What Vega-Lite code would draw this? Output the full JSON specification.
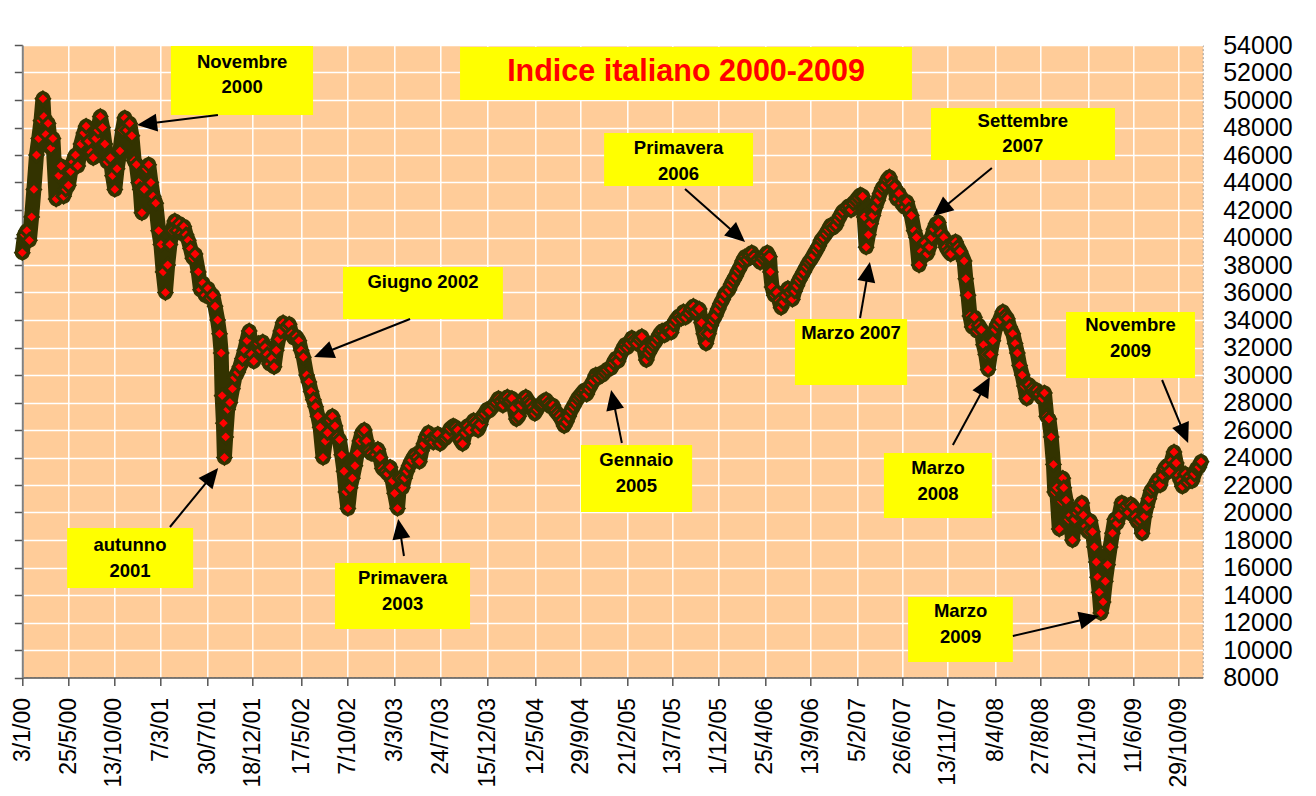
{
"$schema":"https://vega.github.io/schema/vega-lite/v6.json",
"width":1180.4,"height":632.5,
"autosize":{"type":"none"},
"padding":{"left":22.3,"top":45,"right":113.3,"bottom":118.5},
"background":"white",
"config":{"view":{"fill":"#FFCC99","stroke":"#9a9a9a","strokeDash":[2,2],"strokeWidth":1},"font":"Liberation Sans"},
"datasets":{
"series":[
{"d":"2000-01-03","v":38900},{"d":"2000-01-10","v":40200},{"d":"2000-01-17","v":40500},{"d":"2000-01-25","v":39800},{"d":"2000-02-01","v":41500},{"d":"2000-02-08","v":43500},{"d":"2000-02-16","v":46000},{"d":"2000-02-23","v":47200},{"d":"2000-03-01","v":48500},{"d":"2000-03-07","v":50100},{"d":"2000-03-10","v":48800},{"d":"2000-03-16","v":47500},{"d":"2000-03-23","v":48300},{"d":"2000-04-01","v":46500},{"d":"2000-04-07","v":47200},{"d":"2000-04-17","v":42800},{"d":"2000-04-25","v":44500},{"d":"2000-05-02","v":45200},{"d":"2000-05-10","v":43000},{"d":"2000-05-17","v":43500},{"d":"2000-05-25","v":43800},{"d":"2000-06-01","v":44800},{"d":"2000-06-08","v":45500},{"d":"2000-06-16","v":46000},{"d":"2000-06-23","v":45200},{"d":"2000-07-03","v":46800},{"d":"2000-07-12","v":47600},{"d":"2000-07-19","v":48100},{"d":"2000-07-27","v":47000},{"d":"2000-08-03","v":46200},{"d":"2000-08-10","v":45800},{"d":"2000-08-18","v":47200},{"d":"2000-08-25","v":47800},{"d":"2000-09-01","v":48800},{"d":"2000-09-08","v":48000},{"d":"2000-09-15","v":46800},{"d":"2000-09-22","v":45500},{"d":"2000-10-02","v":45800},{"d":"2000-10-09","v":44500},{"d":"2000-10-16","v":43500},{"d":"2000-10-23","v":45000},{"d":"2000-11-01","v":46300},{"d":"2000-11-09","v":47800},{"d":"2000-11-16","v":48700},{"d":"2000-11-23","v":47800},{"d":"2000-12-01","v":48300},{"d":"2000-12-08","v":47400},{"d":"2000-12-15","v":45600},{"d":"2000-12-22","v":45300},{"d":"2000-12-29","v":44000},
{"d":"2001-01-03","v":43500},{"d":"2001-01-08","v":41800},{"d":"2001-01-15","v":43500},{"d":"2001-01-22","v":45000},{"d":"2001-01-29","v":45300},{"d":"2001-02-05","v":44000},{"d":"2001-02-12","v":43000},{"d":"2001-02-20","v":42500},{"d":"2001-03-01","v":40500},{"d":"2001-03-08","v":39500},{"d":"2001-03-15","v":37500},{"d":"2001-03-22","v":36000},{"d":"2001-03-29","v":38000},{"d":"2001-04-05","v":39500},{"d":"2001-04-12","v":40500},{"d":"2001-04-20","v":41200},{"d":"2001-04-27","v":40500},{"d":"2001-05-04","v":41000},{"d":"2001-05-11","v":40300},{"d":"2001-05-18","v":40800},{"d":"2001-05-25","v":40200},{"d":"2001-06-01","v":39800},{"d":"2001-06-08","v":39200},{"d":"2001-06-15","v":38500},{"d":"2001-06-22","v":38800},{"d":"2001-07-02","v":37500},{"d":"2001-07-09","v":36200},{"d":"2001-07-16","v":36700},{"d":"2001-07-23","v":35800},{"d":"2001-08-01","v":36300},{"d":"2001-08-08","v":35600},{"d":"2001-08-16","v":35800},{"d":"2001-08-23","v":35000},{"d":"2001-08-31","v":34000},{"d":"2001-09-06","v":33000},{"d":"2001-09-11","v":31600},{"d":"2001-09-14","v":28500},{"d":"2001-09-18","v":26500},{"d":"2001-09-21","v":24000},{"d":"2001-09-25","v":25500},{"d":"2001-10-01","v":27500},{"d":"2001-10-08","v":28000},{"d":"2001-10-16","v":29000},{"d":"2001-10-23","v":29800},{"d":"2001-11-01","v":30200},{"d":"2001-11-08","v":30600},{"d":"2001-11-16","v":31200},{"d":"2001-11-23","v":31800},{"d":"2001-11-30","v":32500},{"d":"2001-12-07","v":33200},{"d":"2001-12-14","v":31500},{"d":"2001-12-21","v":31000},
{"d":"2002-01-04","v":32300},{"d":"2002-01-11","v":31800},{"d":"2002-01-18","v":32400},{"d":"2002-01-25","v":32000},{"d":"2002-02-01","v":31500},{"d":"2002-02-08","v":30800},{"d":"2002-02-15","v":31200},{"d":"2002-02-22","v":30600},{"d":"2002-03-01","v":31800},{"d":"2002-03-08","v":32600},{"d":"2002-03-15","v":33200},{"d":"2002-03-22","v":33800},{"d":"2002-04-02","v":33500},{"d":"2002-04-10","v":33700},{"d":"2002-04-17","v":33000},{"d":"2002-04-24","v":32700},{"d":"2002-05-02","v":32800},{"d":"2002-05-10","v":32500},{"d":"2002-05-17","v":31800},{"d":"2002-05-24","v":31300},{"d":"2002-06-03","v":30000},{"d":"2002-06-10","v":29500},{"d":"2002-06-17","v":28800},{"d":"2002-06-24","v":28200},{"d":"2002-07-01","v":27700},{"d":"2002-07-08","v":27000},{"d":"2002-07-15","v":26200},{"d":"2002-07-24","v":24000},{"d":"2002-07-31","v":25200},{"d":"2002-08-07","v":25800},{"d":"2002-08-15","v":26700},{"d":"2002-08-22","v":27000},{"d":"2002-08-30","v":26300},{"d":"2002-09-06","v":25500},{"d":"2002-09-13","v":25300},{"d":"2002-09-20","v":24200},{"d":"2002-09-27","v":23000},{"d":"2002-10-03","v":21500},{"d":"2002-10-09","v":20300},{"d":"2002-10-16","v":21800},{"d":"2002-10-23","v":22500},{"d":"2002-10-31","v":23400},{"d":"2002-11-07","v":24300},{"d":"2002-11-15","v":25200},{"d":"2002-11-22","v":25800},{"d":"2002-11-29","v":26000},{"d":"2002-12-06","v":25200},{"d":"2002-12-13","v":24500},{"d":"2002-12-20","v":24300},
{"d":"2003-01-03","v":24200},{"d":"2003-01-10","v":24600},{"d":"2003-01-17","v":24000},{"d":"2003-01-24","v":23200},{"d":"2003-02-03","v":23000},{"d":"2003-02-10","v":22800},{"d":"2003-02-17","v":23300},{"d":"2003-02-24","v":22300},{"d":"2003-03-03","v":21400},{"d":"2003-03-12","v":20300},{"d":"2003-03-20","v":22500},{"d":"2003-03-27","v":21800},{"d":"2003-04-03","v":22500},{"d":"2003-04-10","v":23000},{"d":"2003-04-17","v":23400},{"d":"2003-04-25","v":23800},{"d":"2003-05-05","v":24200},{"d":"2003-05-12","v":24000},{"d":"2003-05-19","v":23700},{"d":"2003-05-26","v":24500},{"d":"2003-06-02","v":25000},{"d":"2003-06-09","v":25500},{"d":"2003-06-16","v":25800},{"d":"2003-06-23","v":25300},{"d":"2003-07-01","v":25100},{"d":"2003-07-08","v":25500},{"d":"2003-07-15","v":25700},{"d":"2003-07-22","v":25000},{"d":"2003-08-01","v":25300},{"d":"2003-08-08","v":25400},{"d":"2003-08-15","v":25600},{"d":"2003-08-22","v":26100},{"d":"2003-09-01","v":26300},{"d":"2003-09-08","v":26200},{"d":"2003-09-15","v":26000},{"d":"2003-09-22","v":25300},{"d":"2003-09-30","v":25000},{"d":"2003-10-08","v":25800},{"d":"2003-10-15","v":26300},{"d":"2003-10-22","v":26000},{"d":"2003-11-03","v":26700},{"d":"2003-11-10","v":26500},{"d":"2003-11-17","v":26000},{"d":"2003-11-24","v":26400},{"d":"2003-12-01","v":27000},{"d":"2003-12-08","v":27200},{"d":"2003-12-15","v":27500},{"d":"2003-12-22","v":27400},
{"d":"2004-01-05","v":27800},{"d":"2004-01-12","v":28000},{"d":"2004-01-19","v":28300},{"d":"2004-01-26","v":28100},{"d":"2004-02-02","v":27800},{"d":"2004-02-09","v":28200},{"d":"2004-02-16","v":28400},{"d":"2004-02-23","v":28100},{"d":"2004-03-01","v":28300},{"d":"2004-03-08","v":27600},{"d":"2004-03-15","v":26800},{"d":"2004-03-22","v":27000},{"d":"2004-03-29","v":27800},{"d":"2004-04-05","v":28200},{"d":"2004-04-13","v":28400},{"d":"2004-04-20","v":28100},{"d":"2004-04-27","v":27900},{"d":"2004-05-04","v":27600},{"d":"2004-05-11","v":27200},{"d":"2004-05-18","v":27500},{"d":"2004-05-25","v":27800},{"d":"2004-06-01","v":27900},{"d":"2004-06-08","v":28100},{"d":"2004-06-15","v":28200},{"d":"2004-06-22","v":27900},{"d":"2004-06-29","v":27700},{"d":"2004-07-06","v":27800},{"d":"2004-07-13","v":27400},{"d":"2004-07-20","v":27200},{"d":"2004-07-27","v":27000},{"d":"2004-08-03","v":26700},{"d":"2004-08-10","v":26300},{"d":"2004-08-17","v":26600},{"d":"2004-08-24","v":27000},{"d":"2004-08-31","v":27400},{"d":"2004-09-07","v":27700},{"d":"2004-09-14","v":28000},{"d":"2004-09-21","v":28300},{"d":"2004-09-28","v":28500},{"d":"2004-10-05","v":28700},{"d":"2004-10-12","v":28900},{"d":"2004-10-19","v":28600},{"d":"2004-10-26","v":29000},{"d":"2004-11-02","v":29300},{"d":"2004-11-09","v":29600},{"d":"2004-11-16","v":30000},{"d":"2004-11-23","v":29800},{"d":"2004-11-30","v":30100},{"d":"2004-12-07","v":30000},{"d":"2004-12-14","v":30200},{"d":"2004-12-21","v":30400},
{"d":"2005-01-03","v":30500},{"d":"2005-01-10","v":30900},{"d":"2005-01-17","v":31200},{"d":"2005-01-24","v":31000},{"d":"2005-02-01","v":31500},{"d":"2005-02-08","v":31900},{"d":"2005-02-15","v":32200},{"d":"2005-02-22","v":32000},{"d":"2005-03-01","v":32300},{"d":"2005-03-08","v":32700},{"d":"2005-03-15","v":32500},{"d":"2005-03-22","v":32300},{"d":"2005-04-01","v":32600},{"d":"2005-04-08","v":32800},{"d":"2005-04-15","v":31900},{"d":"2005-04-22","v":31100},{"d":"2005-04-29","v":31600},{"d":"2005-05-06","v":31900},{"d":"2005-05-13","v":32200},{"d":"2005-05-20","v":32400},{"d":"2005-05-27","v":32700},{"d":"2005-06-03","v":33000},{"d":"2005-06-10","v":33200},{"d":"2005-06-17","v":32900},{"d":"2005-06-24","v":33300},{"d":"2005-07-01","v":33400},{"d":"2005-07-08","v":33100},{"d":"2005-07-15","v":33700},{"d":"2005-07-22","v":34000},{"d":"2005-08-01","v":34300},{"d":"2005-08-08","v":34100},{"d":"2005-08-15","v":34600},{"d":"2005-08-22","v":34200},{"d":"2005-09-01","v":34500},{"d":"2005-09-08","v":34800},{"d":"2005-09-15","v":35000},{"d":"2005-09-22","v":34600},{"d":"2005-10-03","v":34800},{"d":"2005-10-10","v":33800},{"d":"2005-10-17","v":33000},{"d":"2005-10-24","v":32300},{"d":"2005-11-01","v":33000},{"d":"2005-11-08","v":33600},{"d":"2005-11-15","v":34000},{"d":"2005-11-22","v":34300},{"d":"2005-12-01","v":34800},{"d":"2005-12-08","v":35200},{"d":"2005-12-15","v":35500},{"d":"2005-12-22","v":35900},
{"d":"2006-01-03","v":36200},{"d":"2006-01-10","v":36600},{"d":"2006-01-17","v":36900},{"d":"2006-01-24","v":37200},{"d":"2006-02-01","v":37600},{"d":"2006-02-08","v":37900},{"d":"2006-02-15","v":38300},{"d":"2006-02-22","v":38600},{"d":"2006-03-01","v":38400},{"d":"2006-03-08","v":38700},{"d":"2006-03-15","v":38900},{"d":"2006-03-22","v":38600},{"d":"2006-04-03","v":38400},{"d":"2006-04-10","v":38200},{"d":"2006-04-18","v":38500},{"d":"2006-04-25","v":38700},{"d":"2006-05-02","v":38900},{"d":"2006-05-09","v":38600},{"d":"2006-05-12","v":37500},{"d":"2006-05-17","v":36400},{"d":"2006-05-24","v":35800},{"d":"2006-06-01","v":36000},{"d":"2006-06-08","v":35400},{"d":"2006-06-14","v":34900},{"d":"2006-06-21","v":35300},{"d":"2006-06-28","v":35800},{"d":"2006-07-05","v":36300},{"d":"2006-07-12","v":36000},{"d":"2006-07-19","v":35500},{"d":"2006-07-26","v":36100},{"d":"2006-08-02","v":36500},{"d":"2006-08-09","v":36900},{"d":"2006-08-16","v":37200},{"d":"2006-08-23","v":37500},{"d":"2006-09-01","v":37900},{"d":"2006-09-08","v":38200},{"d":"2006-09-15","v":38400},{"d":"2006-09-22","v":38700},{"d":"2006-10-02","v":39100},{"d":"2006-10-09","v":39400},{"d":"2006-10-16","v":39800},{"d":"2006-10-23","v":40000},{"d":"2006-11-01","v":40300},{"d":"2006-11-08","v":40600},{"d":"2006-11-15","v":40900},{"d":"2006-11-22","v":40700},{"d":"2006-12-01","v":40900},{"d":"2006-12-08","v":41300},{"d":"2006-12-15","v":41600},{"d":"2006-12-22","v":41900},
{"d":"2007-01-03","v":42100},{"d":"2007-01-10","v":42300},{"d":"2007-01-17","v":42000},{"d":"2007-01-24","v":42500},{"d":"2007-02-01","v":42700},{"d":"2007-02-08","v":42900},{"d":"2007-02-15","v":43100},{"d":"2007-02-22","v":43000},{"d":"2007-02-27","v":41500},{"d":"2007-03-05","v":39300},{"d":"2007-03-12","v":40200},{"d":"2007-03-19","v":41000},{"d":"2007-03-26","v":41600},{"d":"2007-04-02","v":42200},{"d":"2007-04-10","v":42700},{"d":"2007-04-17","v":43200},{"d":"2007-04-24","v":43600},{"d":"2007-05-02","v":43800},{"d":"2007-05-09","v":44200},{"d":"2007-05-16","v":44400},{"d":"2007-05-23","v":43900},{"d":"2007-06-01","v":43700},{"d":"2007-06-08","v":42800},{"d":"2007-06-15","v":43200},{"d":"2007-06-22","v":42500},{"d":"2007-07-02","v":42200},{"d":"2007-07-09","v":42600},{"d":"2007-07-16","v":42000},{"d":"2007-07-23","v":41600},{"d":"2007-08-01","v":40500},{"d":"2007-08-08","v":40000},{"d":"2007-08-16","v":38000},{"d":"2007-08-23","v":39000},{"d":"2007-09-03","v":39600},{"d":"2007-09-10","v":38800},{"d":"2007-09-17","v":39300},{"d":"2007-09-24","v":40000},{"d":"2007-10-01","v":40600},{"d":"2007-10-08","v":41000},{"d":"2007-10-15","v":41100},{"d":"2007-10-22","v":40300},{"d":"2007-11-01","v":40000},{"d":"2007-11-08","v":39300},{"d":"2007-11-15","v":39000},{"d":"2007-11-22","v":38800},{"d":"2007-11-30","v":39500},{"d":"2007-12-07","v":39700},{"d":"2007-12-14","v":39300},{"d":"2007-12-21","v":39000},
{"d":"2008-01-03","v":38300},{"d":"2008-01-08","v":37000},{"d":"2008-01-15","v":35800},{"d":"2008-01-21","v":34300},{"d":"2008-01-28","v":33500},{"d":"2008-02-04","v":34200},{"d":"2008-02-11","v":33200},{"d":"2008-02-18","v":33600},{"d":"2008-02-25","v":33300},{"d":"2008-03-03","v":32200},{"d":"2008-03-10","v":31500},{"d":"2008-03-17","v":30400},{"d":"2008-03-24","v":31500},{"d":"2008-04-01","v":32500},{"d":"2008-04-08","v":33300},{"d":"2008-04-15","v":33700},{"d":"2008-04-22","v":34000},{"d":"2008-05-02","v":34600},{"d":"2008-05-09","v":34300},{"d":"2008-05-16","v":34100},{"d":"2008-05-23","v":33500},{"d":"2008-06-02","v":33000},{"d":"2008-06-09","v":32300},{"d":"2008-06-16","v":31600},{"d":"2008-06-23","v":30700},{"d":"2008-07-01","v":30000},{"d":"2008-07-08","v":29200},{"d":"2008-07-15","v":28300},{"d":"2008-07-22","v":29300},{"d":"2008-08-01","v":29000},{"d":"2008-08-08","v":28800},{"d":"2008-08-15","v":28900},{"d":"2008-08-22","v":28600},{"d":"2008-09-01","v":28300},{"d":"2008-09-08","v":28700},{"d":"2008-09-15","v":27000},{"d":"2008-09-22","v":26800},{"d":"2008-09-29","v":25500},{"d":"2008-10-06","v":23500},{"d":"2008-10-10","v":21500},{"d":"2008-10-16","v":21800},{"d":"2008-10-24","v":18800},{"d":"2008-10-31","v":20800},{"d":"2008-11-04","v":22500},{"d":"2008-11-07","v":21800},{"d":"2008-11-14","v":20900},{"d":"2008-11-21","v":19500},{"d":"2008-11-28","v":19800},{"d":"2008-12-04","v":18000},{"d":"2008-12-11","v":19500},{"d":"2008-12-18","v":20000},{"d":"2008-12-24","v":20300},
{"d":"2009-01-02","v":20700},{"d":"2009-01-07","v":19800},{"d":"2009-01-14","v":19000},{"d":"2009-01-21","v":18600},{"d":"2009-01-28","v":19400},{"d":"2009-02-04","v":18600},{"d":"2009-02-10","v":17500},{"d":"2009-02-16","v":16400},{"d":"2009-02-20","v":15300},{"d":"2009-02-25","v":14200},{"d":"2009-03-02","v":12700},{"d":"2009-03-09","v":13500},{"d":"2009-03-16","v":15000},{"d":"2009-03-23","v":16200},{"d":"2009-03-31","v":17500},{"d":"2009-04-07","v":18500},{"d":"2009-04-14","v":19500},{"d":"2009-04-21","v":19200},{"d":"2009-04-28","v":19800},{"d":"2009-05-06","v":20700},{"d":"2009-05-13","v":20300},{"d":"2009-05-20","v":20500},{"d":"2009-05-27","v":20000},{"d":"2009-06-03","v":20600},{"d":"2009-06-10","v":20400},{"d":"2009-06-17","v":19700},{"d":"2009-06-24","v":19300},{"d":"2009-07-01","v":19500},{"d":"2009-07-08","v":18500},{"d":"2009-07-15","v":19700},{"d":"2009-07-22","v":20400},{"d":"2009-07-29","v":21000},{"d":"2009-08-05","v":21600},{"d":"2009-08-12","v":21800},{"d":"2009-08-19","v":22100},{"d":"2009-08-26","v":22400},{"d":"2009-09-02","v":22000},{"d":"2009-09-09","v":22700},{"d":"2009-09-16","v":23200},{"d":"2009-09-23","v":23400},{"d":"2009-10-01","v":23000},{"d":"2009-10-08","v":23800},{"d":"2009-10-15","v":24400},{"d":"2009-10-22","v":23600},{"d":"2009-10-29","v":22700},{"d":"2009-11-05","v":22300},{"d":"2009-11-10","v":21900},{"d":"2009-11-19","v":22800},{"d":"2009-11-26","v":22200},{"d":"2009-12-03","v":22600},{"d":"2009-12-10","v":22300},{"d":"2009-12-17","v":22800},{"d":"2009-12-24","v":23200},{"d":"2009-12-31","v":23300},{"d":"2010-01-07","v":23700}
],
"boxes":[
{"a":"2003-09-22","b":"2007-07-25","lo":50000,"hi":53855},
{"a":"2001-04-08","b":"2002-06-23","lo":48909,"hi":53927},
{"a":"2002-09-24","b":"2004-02-02","lo":34073,"hi":37855},
{"a":"2000-05-21","b":"2001-06-16","lo":14509,"hi":18873},
{"a":"2002-08-30","b":"2003-10-23","lo":11527,"hi":16327},
{"a":"2004-10-01","b":"2005-09-11","lo":20036,"hi":24909},
{"a":"2004-12-12","b":"2006-03-19","lo":43745,"hi":47600},
{"a":"2006-07-27","b":"2007-07-10","lo":29273,"hi":34073},
{"a":"2007-09-22","b":"2009-04-15","lo":45636,"hi":49418},
{"a":"2007-04-29","b":"2008-03-29","lo":19600,"hi":24327},
{"a":"2007-07-13","b":"2008-06-02","lo":9127,"hi":13855},
{"a":"2008-11-14","b":"2009-12-19","lo":29782,"hi":34582}
],
"notes":[
{"t":"Novembre\n2000","d":"2001-11-15","v":52764},
{"t":"Giugno 2002","d":"2003-05-30","v":36764},
{"t":"autunno\n2001","d":"2000-12-02","v":17636},
{"t":"Primavera\n2003","d":"2003-03-28","v":15236},
{"t":"Gennaio\n2005","d":"2005-03-22","v":23818},
{"t":"Primavera\n2006","d":"2005-07-31","v":46509},
{"t":"Marzo 2007","d":"2007-01-17","v":33055},
{"t":"Settembre\n2007","d":"2008-07-03","v":48473},
{"t":"Marzo\n2008","d":"2007-10-14","v":23236},
{"t":"Marzo\n2009","d":"2007-12-23","v":12836},
{"t":"Novembre\n2009","d":"2009-06-02","v":33636}
],
"title":[{"t":"Indice italiano 2000-2009","d":"2005-08-23","v":52036}],
"arrows":[
{"id":"A1","d0":"2001-09-01","v0":48909,"d1":"2001-01-24","v1":48269},
{"id":"A2","d0":"2003-04-20","v0":34073,"d1":"2002-07-25","v1":31578},
{"id":"A3","d0":"2001-04-05","v0":18945,"d1":"2001-08-13","v1":22669},
{"id":"A4","d0":"2003-04-01","v0":16836,"d1":"2003-03-19","v1":18807},
{"id":"A5","d0":"2005-02-05","v0":25055,"d1":"2005-01-09","v1":28196},
{"id":"A6","d0":"2005-08-20","v0":43527,"d1":"2006-01-30","v1":40153},
{"id":"A7","d0":"2007-02-14","v0":34145,"d1":"2007-03-11","v1":37505},
{"id":"A8","d0":"2008-03-29","v0":45055,"d1":"2007-10-23","v1":42022},
{"id":"A9","d0":"2007-11-29","v0":24909,"d1":"2008-03-08","v1":29215},
{"id":"A10","d0":"2008-06-02","v0":11018,"d1":"2009-01-25","v1":12305},
{"id":"A11","d0":"2009-09-08","v0":29636,"d1":"2009-11-16","v1":25724}
]
},
"resolve":{"axis":{"x":"independent","y":"independent"}},
"layer":[
{"data":{"name":"series"},
 "mark":{"type":"line","color":"#333300","strokeWidth":15,"strokeJoin":"round","strokeCap":"round"},
 "encoding":{
  "x":{"field":"d","type":"temporal",
       "scale":{"domain":[{"year":2000,"month":1,"date":3},{"year":2010,"month":1,"date":12}]},
       "axis":{"title":null,"format":"%-d/%-m/%y","labelAngle":270,"labelFontSize":23,"labelFont":"Liberation Sans","labelColor":"black","labelPadding":12,"labelOverlap":false,"labelFlush":false,"labelBound":false,
               "tickSize":8,"tickColor":"#555555","tickWidth":1.5,"domainColor":"#555555","domainWidth":1.5,"grid":true,"gridColor":"white","gridWidth":1.5,
               "values":[{"year":2000,"month":1,"date":3},{"year":2000,"month":5,"date":25},{"year":2000,"month":10,"date":13},{"year":2001,"month":3,"date":7},{"year":2001,"month":7,"date":30},{"year":2001,"month":12,"date":18},{"year":2002,"month":5,"date":17},{"year":2002,"month":10,"date":7},{"year":2003,"month":3,"date":3},{"year":2003,"month":7,"date":24},{"year":2003,"month":12,"date":15},{"year":2004,"month":5,"date":12},{"year":2004,"month":9,"date":29},{"year":2005,"month":2,"date":21},{"year":2005,"month":7,"date":13},{"year":2005,"month":12,"date":1},{"year":2006,"month":4,"date":25},{"year":2006,"month":9,"date":13},{"year":2007,"month":2,"date":5},{"year":2007,"month":6,"date":26},{"year":2007,"month":11,"date":13},{"year":2008,"month":4,"date":8},{"year":2008,"month":8,"date":27},{"year":2009,"month":1,"date":21},{"year":2009,"month":6,"date":11},{"year":2009,"month":10,"date":29}]}},
  "y":{"field":"v","type":"quantitative","scale":{"domain":[8000,54000],"nice":false,"zero":false},
       "axis":{"orient":"left","title":null,"labels":false,"tickSize":8,"tickColor":"#555555","tickWidth":1.5,"domainColor":"#808080","domainWidth":2,"grid":true,"gridColor":"white","gridWidth":1.5,
               "values":[8000,10000,12000,14000,16000,18000,20000,22000,24000,26000,28000,30000,32000,34000,36000,38000,40000,42000,44000,46000,48000,50000,52000,54000]}}
 }},
{"data":{"name":"series"},
 "mark":{"type":"point","shape":"diamond","filled":true,"size":170,"fill":"#FF0000","stroke":"#333300","strokeWidth":3,"opacity":1},
 "encoding":{
  "x":{"field":"d","type":"temporal","axis":null,"scale":{"domain":[{"year":2000,"month":1,"date":3},{"year":2010,"month":1,"date":12}]}},
  "y":{"field":"v","type":"quantitative","scale":{"domain":[8000,54000],"nice":false,"zero":false},
       "axis":{"orient":"right","title":null,"format":"d","ticks":false,"domain":false,"grid":false,"labelFontSize":25,"labelFont":"Liberation Sans","labelColor":"black","labelPadding":20,"labelAlign":"left","labelOverlap":false,"labelBound":false,
               "values":[8000,10000,12000,14000,16000,18000,20000,22000,24000,26000,28000,30000,32000,34000,36000,38000,40000,42000,44000,46000,48000,50000,52000,54000]}}
 }},
{"data":{"name":"boxes"},
 "mark":{"type":"rect","fill":"#FFFF00"},
 "encoding":{
  "x":{"field":"a","type":"temporal","axis":null,"scale":{"domain":[{"year":2000,"month":1,"date":3},{"year":2010,"month":1,"date":12}]}},
  "x2":{"field":"b"},
  "y":{"field":"hi","type":"quantitative","axis":null,"scale":{"domain":[8000,54000],"nice":false,"zero":false}},
  "y2":{"field":"lo"}
 }},
{"data":{"name":"arrows"},
 "mark":{"type":"rule","color":"black","strokeWidth":2},
 "encoding":{
  "x":{"field":"d0","type":"temporal","axis":null,"scale":{"domain":[{"year":2000,"month":1,"date":3},{"year":2010,"month":1,"date":12}]}},
  "x2":{"field":"d1"},
  "y":{"field":"v0","type":"quantitative","axis":null,"scale":{"domain":[8000,54000],"nice":false,"zero":false}},
  "y2":{"field":"v1"}
 }},
{"data":{"name":"arrows"},
 "mark":{"type":"point","shape":"M0,-1L0.9,1L-0.9,1Z","filled":true,"size":400,"color":"black","opacity":1},
 "encoding":{
  "x":{"field":"d1","type":"temporal","axis":null,"scale":{"domain":[{"year":2000,"month":1,"date":3},{"year":2010,"month":1,"date":12}]}},
  "y":{"field":"v1","type":"quantitative","axis":null,"scale":{"domain":[8000,54000],"nice":false,"zero":false}},
  "angle":{"field":"id","type":"nominal","legend":null,"scale":{"type":"ordinal","domain":["A1","A2","A3","A4","A5","A6","A7","A8","A9","A10","A11"],"range":[263,248.4,39.1,350.8,348.3,131.5,10.1,230.8,28.5,76.9,157.6]}}
 }},
{"data":{"name":"notes"},
 "mark":{"type":"text","font":"Liberation Sans","fontWeight":"bold","fontSize":18.5,"lineBreak":"\n","lineHeight":25.5,"baseline":"middle","align":"center","color":"black"},
 "encoding":{
  "x":{"field":"d","type":"temporal","axis":null,"scale":{"domain":[{"year":2000,"month":1,"date":3},{"year":2010,"month":1,"date":12}]}},
  "y":{"field":"v","type":"quantitative","axis":null,"scale":{"domain":[8000,54000],"nice":false,"zero":false}},
  "text":{"field":"t"}
 }},
{"data":{"name":"title"},
 "mark":{"type":"text","font":"Liberation Sans","fontWeight":"bold","fontSize":30.5,"baseline":"middle","align":"center","color":"#FF0000"},
 "encoding":{
  "x":{"field":"d","type":"temporal","axis":null,"scale":{"domain":[{"year":2000,"month":1,"date":3},{"year":2010,"month":1,"date":12}]}},
  "y":{"field":"v","type":"quantitative","axis":null,"scale":{"domain":[8000,54000],"nice":false,"zero":false}},
  "text":{"field":"t"}
 }}
]
}
